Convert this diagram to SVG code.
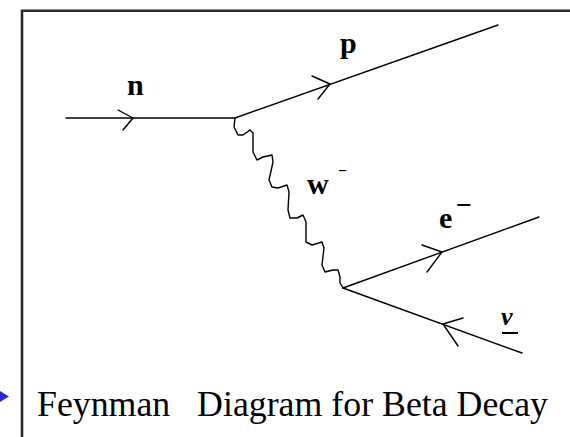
<svg xmlns="http://www.w3.org/2000/svg" width="570" height="437" viewBox="0 0 570 437">
<style>
.ln{fill:none;stroke:#000;stroke-width:1.4;stroke-linecap:round;stroke-linejoin:round}
.lbl{font-family:'Liberation Serif','Times New Roman',serif;font-weight:bold;fill:#000}
.cap{font-family:'Liberation Serif','Times New Roman',serif;font-size:36px;fill:#000}
</style>
<rect width="570" height="437" fill="#fff"/>
<g id="frame">
<path d="M22,437 V10.7 H570" fill="none" stroke="#2a2a2a" stroke-width="2.6"/>
</g>
<polygon id="pointer" points="0,391 9,396.5 0,402" fill="#2a2ad0"/>
<g id="connectors">
<path id="n-line" class="ln" d="M66,118 H235"/>
<path id="n-arrow" class="ln" d="M118,110 L133,118 L123,130"/>
<path id="p-line" class="ln" d="M235,118 L498,25"/>
<path id="p-arrow" class="ln" d="M312,76 L330,84 L318,99"/>
<path id="w-line" class="ln" d="M235,118 L234,127 L238,135 L243,135 L250,130 L253,133 L253,152 L257,160 L263,157 L272,155 L273,162 L269,180 L272,187 L278,188 L287,185 L289,192 L288,210 L290,218 L297,218 L303,215 L306,222 L306,242 L312,245 L322,242 L324,248 L322,265 L325,272 L333,270 L338,270 L340,277 L340,283 L343,288"/>
<path id="e-line" class="ln" d="M343,288 L539,217"/>
<path id="e-arrow" class="ln" d="M422,245 L442,252 L427,272"/>
<path id="nu-line" class="ln" d="M343,288 L522,353"/>
<path id="nu-arrow" class="ln" d="M463,318 L443,324 L458,346"/>
</g>
<g id="label-n"><text class="lbl" x="127" y="95" font-size="30">n</text></g>
<g id="label-p"><text class="lbl" x="340" y="53" font-size="30">p</text></g>
<g id="label-w"><text class="lbl" x="307" y="194" font-size="30">w</text><text class="lbl" x="338" y="176" font-size="16">−</text></g>
<g id="label-e"><text class="lbl" x="439" y="228" font-size="30">e</text><text class="lbl" x="456" y="214" font-size="28">−</text></g>
<g id="label-nu"><text class="lbl" x="501" y="325" font-size="26" font-style="italic">ν</text><line x1="502" y1="333" x2="518" y2="333" stroke="#000" stroke-width="2"/></g>
<g id="caption"><text class="cap" x="37" y="416" xml:space="preserve" textLength="511" lengthAdjust="spacingAndGlyphs">Feynman   Diagram for Beta Decay</text></g>
</svg>
